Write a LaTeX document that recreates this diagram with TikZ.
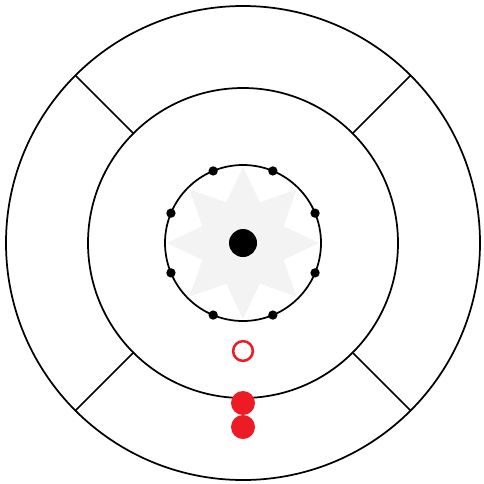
\documentclass[tikz,border=0pt]{standalone}
\definecolor{redmark}{HTML}{ED1C24}
\definecolor{starfill}{HTML}{F3F3F3}
\tikzset{
  ring/.style={draw=black, line width=1.3pt, circle, inner sep=0pt, minimum size=#1},
  spoke/.style={draw=black, line width=1.2pt},
  smalldot/.style={fill=black, circle, inner sep=0pt, minimum size=7pt},
  reddot/.style={fill=redmark, circle, inner sep=0pt, minimum size=18pt},
  redring/.style={draw=redmark, line width=1.9pt, circle, inner sep=0pt, minimum size=14.8pt}
}
\begin{document}
\begin{tikzpicture}[x=0.75pt,y=0.75pt]
\useasboundingbox (-243,-240) rectangle (241,243);
% star
\fill[starfill] (90:76)
  \foreach \k in {1,...,15} { -- ({90+22.5*\k}:{mod(\k,2)==1 ? 44 : 76}) } -- cycle;
\node[ring=474*0.75pt] (outer) at (0,0) {};
\node[ring=310*0.75pt] (middle) at (0,0) {};
\node[ring=156*0.75pt] (inner) at (0,0) {};
\node[fill=black, circle, inner sep=0pt, minimum size=21pt] (hub) at (0,0) {};
\foreach \a in {22.5,67.5,...,337.5} {
  \node[smalldot] (d\a) at (\a:78) {};
}
\foreach \a in {45,135,225,315} {
  \coordinate (s\a) at (\a:155);
  \coordinate (e\a) at (\a:237);
  \draw[spoke] (s\a) -- (e\a);
}
\node[redring] (open) at (0,-108) {};
\node[reddot] (r1) at (0,-160) {};
\node[reddot] (r2) at (0,-184) {};
\end{tikzpicture}
\end{document}
